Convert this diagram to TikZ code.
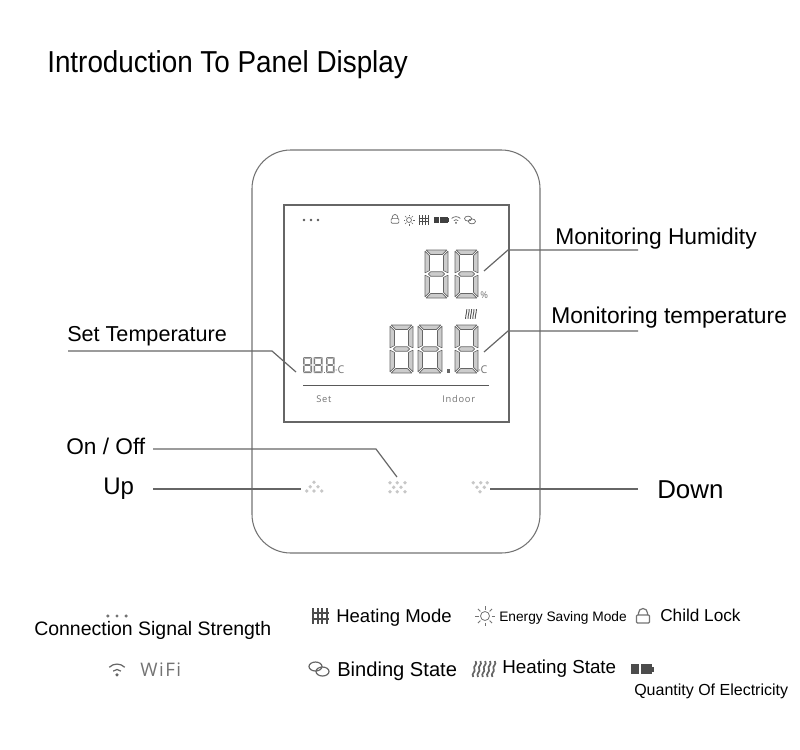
\documentclass[tikz,border=0pt]{standalone}
\usepackage{fontspec}
\setmainfont{Liberation Sans}
\newfontfamily\lcdfont[LetterSpace=8]{Open Sans}
\newfontfamily\titlefont[FakeStretch=0.92]{Liberation Sans}
\usetikzlibrary{positioning, calc}

% Digito de siete segmentos: x, y, ancho, alto, grosor
\newcommand{\segdigit}[5]{%
    \begin{scope}[shift={(#1,#2)}]
        \pgfmathsetmacro{\w}{#3}
        \pgfmathsetmacro{\h}{#4}
        \pgfmathsetmacro{\t}{#5}
        \pgfmathsetmacro{\g}{0.25*#5}
        \pgfmathsetmacro{\m}{0.5*#4}
        \draw[segment] (\g,0) -- (\w-\g,0) -- (\w-\g-\t,\t) -- (\g+\t,\t) -- cycle;
        \draw[segment] (\g,\h) -- (\w-\g,\h) -- (\w-\g-\t,\h-\t) -- (\g+\t,\h-\t) -- cycle;
        \draw[segment] (\g+0.5*\t,\m) -- (\g+\t,\m-0.5*\t) -- (\w-\g-\t,\m-0.5*\t) -- (\w-\g-0.5*\t,\m) -- (\w-\g-\t,\m+0.5*\t) -- (\g+\t,\m+0.5*\t) -- cycle;
        \foreach \sx/\sd in {0/1, \w/-1} {
            \draw[segment] (\sx,\g) -- (\sx+\sd*\t,\g+\t) -- (\sx+\sd*\t,\m-\g-0.5*\t) -- (\sx,\m-\g) -- cycle;
            \draw[segment] (\sx,\m+\g) -- (\sx+\sd*\t,\m+\g+0.5*\t) -- (\sx+\sd*\t,\h-\g-\t) -- (\sx,\h-\g) -- cycle;
        }
    \end{scope}
}

\tikzset{
    iconpen/.style={line width=0.9pt},
    thinicon/.style={iconpen/.style={line width=0.5pt}},
    lockicon/.pic={
        \draw[iconpen, rounded corners=0.8pt] (-6.5,-1) rectangle (6.5,7);
        \draw[iconpen] (-4.5,-1) -- (-4.5,-3) arc (180:360:4.5) -- (4.5,-1);
    },
    sunicon/.pic={
        \draw[iconpen] (0,0) circle (4.5);
        \foreach \a in {0,45,...,315}
            \draw[iconpen] (\a:6.5) -- (\a:10);
    },
    gridicon/.pic={
        \foreach \x in {-7,-2.3,2.3,7}
            \draw[iconpen] (\x,-8) -- (\x,8);
        \foreach \y in {-3,3}
            \draw[iconpen] (-8.5,\y) -- (8.5,\y);
    },
    batteryicon/.pic={
        \fill (-11,-5) rectangle (-3,5);
        \fill (-1.5,-5) rectangle (10,5);
        \fill (10,-2.5) rectangle (11.5,2.5);
    },
    wifiicon/.pic={
        \fill (0,4.5) circle (1.6);
        \draw[iconpen] (-3.5,1) arc (225:315:5);
        \draw[iconpen] (-7,-2.5) arc (225:315:9.9);
    },
    linkicon/.pic={
        \draw[iconpen] (-3.5,-2.5) ellipse (6.5 and 4.5);
        \draw[iconpen] (3.5,2.5) ellipse (6.5 and 4.5);
    },
    waveicon/.pic={
        \foreach \x in {-8,-4,0,4,8}
            \draw[iconpen] (\x+1,-8) .. controls (\x+3,-4) and (\x-1.5,-3) .. (\x,0) .. controls (\x+1.5,3) and (\x-3,4) .. (\x-1,8);
    },
    threedots/.pic={
        \foreach \x in {-8,0,8}
            \fill (\x,0) circle (1.5);
    }
}

\begin{document}
\begin{tikzpicture}[
        x=0.75pt, y=-0.75pt,
        txt/.style={font=\fontsize{#1}{#1}\selectfont, inner sep=0pt, anchor=base west},
        lcdtxt/.style={font=\fontsize{#1}{#1}\selectfont\lcdfont, text=black!55, inner sep=0pt, anchor=base west},
        leader/.style={draw=black!60, line width=0.9pt},
        segment/.style={draw=black!60, fill=black!20, line width=0.45pt, line join=round},
        smallseg/.style={segment/.style={draw=none, fill=black!50}},
        keydot/.style={fill=black!22}
    ]
        \useasboundingbox (0,0) rectangle (800,750);

        % Titulo
        \node[font=\fontsize{22.7}{22.7}\selectfont\titlefont, inner sep=0pt, anchor=base west] (title) at (47,72.7) {Introduction To Panel Display};

        % Cuerpo y pantalla
        \draw[draw=black!55, line width=0.8pt, rounded corners=29pt] (252,150) rectangle (540,553);
        \draw[draw=black!60, line width=0.85pt] (284,205) rectangle (509,422);
        \coordinate (rule-a) at (303,385);
        \coordinate (rule-b) at (489,385);
        \draw[draw=black!65, line width=0.7pt] (rule-a) -- (rule-b);

        % Iconos superiores de la pantalla
        \pic[black!65, scale=0.87] at (311,220) {threedots};
        \pic[black!60, thinicon, scale=0.6] at (395,219) {lockicon};
        \pic[black!60, thinicon, scale=0.55] at (409,220) {sunicon};
        \pic[black!70, iconpen/.style={line width=0.9pt}, scale=0.62] at (424,220) {gridicon};
        \pic[black!75, scale=0.65] at (441,220) {batteryicon};
        \pic[black!65, thinicon, scale=0.62] at (456,220) {wifiicon};
        \pic[black!60, thinicon, scale=0.55] at (470,220) {linkicon};
        \pic[black!65, iconpen/.style={line width=0.7pt}, scale=0.6] at (471,314) {waveicon};

        % Digitos
        \segdigit{425}{250}{23}{48}{4.5}
        \segdigit{455}{250}{23}{48}{4.5}
        \segdigit{390}{325}{23}{48}{4.5}
        \segdigit{418}{325}{24}{48}{4.5}
        \segdigit{455}{325}{23}{48}{4.5}
        \fill[black!60] (446.5,368.5) rectangle (450,372.5);
        \begin{scope}[smallseg]
            \segdigit{303}{357}{9}{16}{1.6}
            \segdigit{313.5}{357}{9}{16}{1.6}
            \segdigit{326}{357}{8.5}{16}{1.6}
        \end{scope}
        \fill[black!55] (323.8,371.5) rectangle (325.3,373);

        % Unidades y textos de la pantalla
        \node[lcdtxt=7] (unit-hum) at (480,298) {\%};
        \node[lcdtxt=8] (unit-temp) at (478,373) {{\fontsize{4}{4}\selectfont °}C};
        \node[lcdtxt=8] (unit-set) at (335,373) {{\fontsize{4}{4}\selectfont °}C};
        \node[lcdtxt=7] (lbl-set) at (316,402) {Set};
        \node[lcdtxt=7] (lbl-indoor) at (442,402) {Indoor};

        % Teclas
        \foreach \x/\y in {314/482.3, 310.3/486.7, 318/486.7, 306.7/491, 314/491, 321.7/491}
            \fill[keydot] (\x,\y) circle (1.9);
        \foreach \x/\y in {390/482.7, 397.3/482.7, 405/482.7, 393.7/487.3, 401/487.3, 390/491.7, 397.3/491.7, 405/491.7}
            \fill[keydot] (\x,\y) circle (1.9);
        \foreach \x/\y in {473.3/482.7, 480.7/482.7, 487.3/482.7, 477/487.3, 484.3/487.3, 480/491.7}
            \fill[keydot] (\x,\y) circle (1.9);

        % Etiquetas
        \node[txt=17.1] (lbl-hum) at (555,244) {Monitoring Humidity};
        \node[txt=17.1] (lbl-mtemp) at (551,323) {Monitoring temperature};
        \node[txt=16.2] (lbl-stemp) at (67,341) {Set Temperature};
        \node[txt=17] (lbl-onoff) at (66,454) {On / Off};
        \node[txt=18] (lbl-up) at (103,494) {Up};
        \node[txt=19.4] (lbl-down) at (657,498) {Down};

        % Lineas guia
        \coordinate (hum-a) at (638,250);
        \coordinate (hum-b) at (508,250);
        \coordinate (hum-c) at (484,271);
        \coordinate (mtemp-a) at (638,331);
        \coordinate (mtemp-b) at (508,331);
        \coordinate (mtemp-c) at (484,352);
        \coordinate (stemp-a) at (68,351);
        \coordinate (stemp-b) at (272,351);
        \coordinate (stemp-c) at (296,372);
        \coordinate (onoff-a) at (153,449);
        \coordinate (onoff-b) at (376,449);
        \coordinate (onoff-c) at (397,477);
        \coordinate (up-a) at (153,489);
        \coordinate (up-b) at (301,489);
        \coordinate (down-a) at (638,489);
        \coordinate (down-b) at (490,489);
        \draw[leader] (hum-a) -- (hum-b) -- (hum-c);
        \draw[leader] (mtemp-a) -- (mtemp-b) -- (mtemp-c);
        \draw[leader] (stemp-a) -- (stemp-b) -- (stemp-c);
        \draw[leader] (onoff-a) -- (onoff-b) -- (onoff-c);
        \draw[leader] (up-a) -- (up-b);
        \draw[leader] (down-a) -- (down-b);

        % Leyenda inferior
        \pic[black!55, scale=1.15] at (117,616) {threedots};
        \node[txt=14.6] (key-signal) at (34,635) {Connection Signal Strength};
        \pic[black!60, scale=1.1] at (117,670) {wifiicon};
        \node[lcdtxt=14] (key-wifi) at (140,676) {WiFi};
        \pic[black!70, iconpen/.style={line width=1.5pt}] at (320,616) {gridicon};
        \node[txt=13.9] (key-mode) at (336,622) {Heating Mode};
        \pic[black!55, iconpen/.style={line width=0.6pt}] at (485,616) {sunicon};
        \node[txt=10.3] (key-energy) at (499,621) {Energy Saving Mode};
        \pic[black!55] at (643,616) {lockicon};
        \node[txt=12.9] (key-lock) at (660,621) {Child Lock};
        \pic[black!60] at (319,669) {linkicon};
        \node[txt=15.1] (key-binding) at (337,676) {Binding State};
        \pic[black!60, iconpen/.style={line width=1.3pt}, xscale=1.2] at (484,669) {waveicon};
        \node[txt=14.1] (key-heat) at (502,673) {Heating State};
        \pic[black!70] at (642,669) {batteryicon};
        \node[txt=12] (key-battery) at (634,695) {Quantity Of Electricity};

    \end{tikzpicture}
\end{document}
